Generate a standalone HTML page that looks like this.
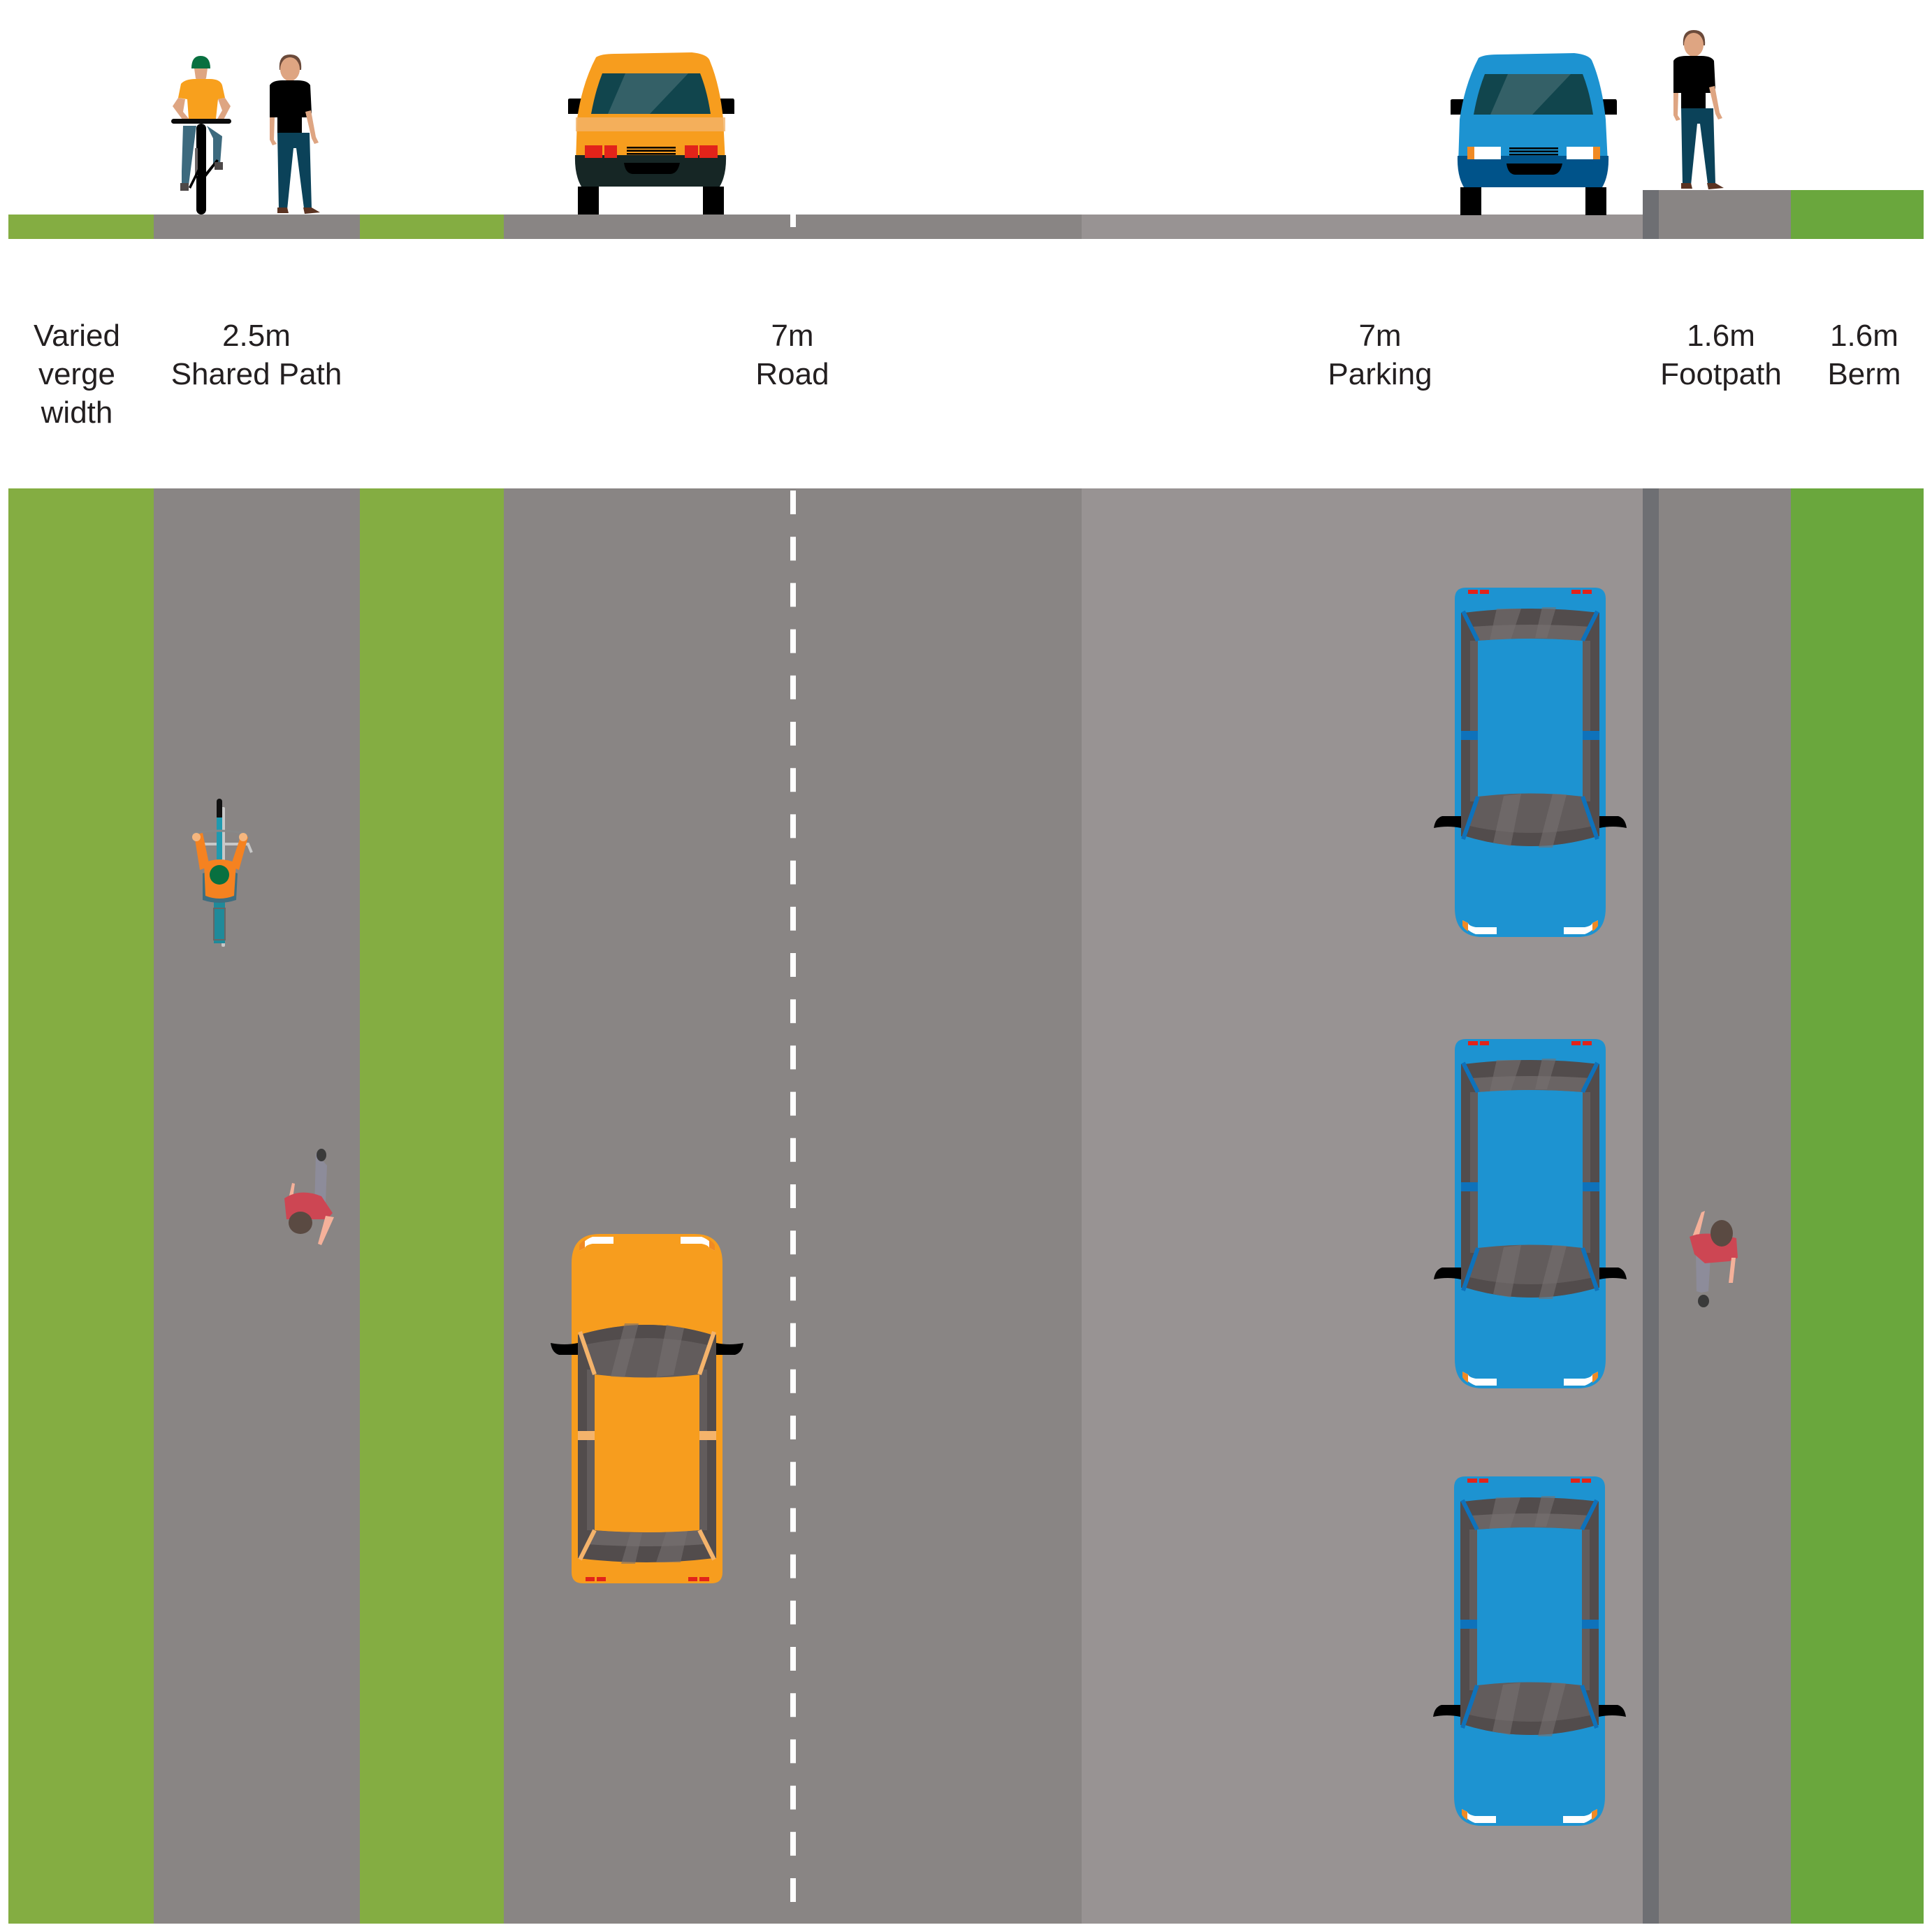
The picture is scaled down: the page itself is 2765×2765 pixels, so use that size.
<!DOCTYPE html>
<html><head><meta charset="utf-8"><style>
html,body{margin:0;padding:0;background:#fff}
svg{display:block}
text{font-family:"Liberation Sans Narrow","Liberation Sans",sans-serif;font-size:44px;fill:#231f20;text-anchor:middle}
</style></head><body>
<svg width="2765" height="2765" viewBox="0 0 2765 2765" xmlns="http://www.w3.org/2000/svg">
<defs>
  <g id="man">
    <path d="M400 100 Q398 78 415 78 Q433 78 431 100 Z" fill="#6b4a3a"/>
    <ellipse cx="415" cy="99" rx="14" ry="17" fill="#dea582"/>
    <path d="M386 122 Q390 115 404 115 L426 115 Q440 115 444 122 L446 162 L440 168 L432 168 L432 191 L397 191 L397 168 L386 168 Z" fill="#000"/>
    <path d="M386 168 L393 168 L392 200 L396 206 L390 208 L386 200 Z" fill="#dea582"/>
    <path d="M437 160 L445 158 L452 196 L456 204 L450 206 L446 198 Z" fill="#dea582"/>
    <path d="M397 190 L443 190 L446 298 L435 298 L424 212 L420 212 L411 300 L399 300 Z" fill="#0b4259"/>
    <path d="M397 297 L411 297 L413 305 L397 305 Z M434 297 L446 297 L458 304 L436 306 Z" fill="#5a3322"/>
  </g>
  <g id="cartop">
    <path d="M16 0 L200 0 Q216 0 216 16 L216 458 Q216 500 176 500 L40 500 Q0 500 0 458 L0 16 Q0 0 16 0 Z" fill="var(--b)"/>
    <rect x="9" y="36" width="24" height="320" fill="#524c4c"/>
    <rect x="183" y="36" width="24" height="320" fill="#524c4c"/>
    <rect x="22" y="76" width="11" height="230" fill="#625c5c"/>
    <rect x="183" y="76" width="11" height="230" fill="#625c5c"/>
    <path d="M13 36 Q108 24 207 36 L183 76 Q108 70 33 76 Z" fill="#524c4c"/>
    <path d="M24 56 Q108 50 195 56 L183 76 Q108 70 33 76 Z" fill="#6a6464"/>
    <path d="M60 30 L95 30 L80 75 L50 75 Z M125 28 L145 28 L132 72 L115 72 Z" fill="#777070" opacity=".6"/>
    <path d="M33 76 Q108 70 183 76 L183 299 Q108 290 33 299 Z" fill="var(--b)"/>
    <path d="M33 299 Q108 290 183 299 L207 355 Q108 385 13 355 Z" fill="#625c5c"/>
    <path d="M13 355 Q108 385 207 355 L203 340 Q108 362 17 340 Z" fill="#524c4c"/>
    <path d="M70 298 L95 295 L80 370 L55 365 Z M140 295 L160 296 L140 372 L120 372 Z" fill="#777070" opacity=".6"/>
    <g stroke="var(--p)" stroke-width="6" fill="none">
      <path d="M12 34 L33 76 M204 34 L183 76 M33 299 L12 360 M183 299 L204 360"/>
    </g>
    <rect x="9" y="205" width="24" height="13" fill="var(--p)"/>
    <rect x="183" y="205" width="24" height="13" fill="var(--p)"/>
    <path d="M9 327 L-18 327 Q-28 330 -30 344 Q-10 340 9 344 Z" fill="#000"/>
    <path d="M207 327 L234 327 Q244 330 246 344 Q226 340 207 344 Z" fill="#000"/>
    <rect x="19" y="3" width="14" height="6" fill="#e2231a"/><rect x="36" y="3" width="13" height="6" fill="#e2231a"/>
    <rect x="167" y="3" width="13" height="6" fill="#e2231a"/><rect x="183" y="3" width="13" height="6" fill="#e2231a"/>
    <path d="M11 476 Q14 490 30 496 L60 496 L60 486 L30 486 Q20 484 19 480 Z" fill="#fff"/>
    <path d="M11 476 L19 480 L19 492 Q13 488 11 484 Z" fill="#f08a24"/>
    <path d="M205 476 Q202 490 186 496 L156 496 L156 486 L186 486 Q196 484 197 480 Z" fill="#fff"/>
    <path d="M205 476 L197 480 L197 492 Q203 488 205 484 Z" fill="#f08a24"/>
  </g>
  <g id="carfront">
    <path d="M827 267 L857 267 L857 307 L827 307 Z M1006 267 L1036 267 L1036 307 L1006 307 Z" fill="#000"/>
    <path d="M813 143 Q813 141 816 141 L840 141 L840 163 L813 163 Z M1027 141 L1049 141 Q1051 141 1051 145 L1051 163 L1024 163 Z" fill="#000"/>
    <path d="M853 82 Q860 77 880 77 L990 75 Q1010 77 1015 85 Q1030 120 1035 170 L1038 232 L824 232 L826 170 Q833 120 853 82 Z" fill="var(--b)"/>
    <path d="M862 105 L1002 105 Q1012 130 1017 163 L846 163 Q852 130 862 105 Z" fill="#11454d"/>
    <path d="M895 105 L985 105 L930 163 L870 163 Z" fill="#fff" opacity=".15"/>
    <path d="M823 222 L1039 222 Q1040 250 1030 267 L832 267 Q822 250 823 222 Z" fill="var(--d)"/>
    <path d="M893 233 L973 233 Q970 248 960 249 L905 249 Q895 248 893 233 Z" fill="#000"/>
    <g fill="#000"><rect x="897" y="210" width="70" height="2.5"/><rect x="897" y="214.5" width="70" height="2.5"/><rect x="897" y="219" width="70" height="2.5"/></g>
  </g>
</defs>

<!-- elevation strip -->
<rect x="12" y="307" width="208" height="35" fill="#84ad42"/>
<rect x="220" y="307" width="295" height="35" fill="#898584"/>
<rect x="515" y="307" width="206" height="35" fill="#84ad42"/>
<rect x="721" y="307" width="827" height="35" fill="#898584"/>
<rect x="1548" y="307" width="803" height="35" fill="#989393"/>
<rect x="2351" y="272" width="23" height="70" fill="#6e6f73"/>
<rect x="2374" y="272" width="189" height="70" fill="#898584"/>
<rect x="2563" y="272" width="190" height="70" fill="#6aa73d"/>
<rect x="1131" y="307" width="8" height="18" fill="#fff"/>

<!-- elevation figures -->
<g>
  <path d="M274 98 Q274 80 287 80 Q301 80 301 98 Z" fill="#087040"/>
  <path d="M278 98 L297 98 L295 112 Q287 122 280 112 Z" fill="#dea582"/>
  <path d="M262 180 L281 180 L270 265 L260 265 L260 245 Z M296 180 L318 195 L315 235 L305 235 L305 198 Z" fill="#3d6a7e"/>
  <path d="M259 120 Q265 113 280 113 L300 113 Q315 113 318 122 L322 140 L312 142 L309 170 L270 170 L268 142 L255 140 Z" fill="#f8a01d"/>
  <path d="M255 140 L265 142 L262 160 L272 172 L264 175 L247 152 Z M312 142 L322 140 L330 152 L318 175 L310 172 L318 158 Z" fill="#dea582"/>
  <rect x="245" y="170" width="86" height="7" rx="3.5" fill="#0b0b0b"/>
  <rect x="281" y="177" width="14" height="130" rx="7" fill="#000"/>
  <rect x="279" y="212" width="4" height="40" fill="#6b6565"/>
  <path d="M292 250 L310 228 L313 230 L295 253 Z M270 268 L283 242 L286 244 L273 270 Z" fill="#000"/>
  <rect x="258" y="262" width="12" height="11" fill="#4d4848"/><rect x="307" y="232" width="12" height="11" fill="#4d4848"/>
</g>
<use href="#man"/>
<use href="#man" transform="translate(2009,-35)"/>
<use href="#carfront" style="--b:#f79d1e;--d:#162625"/>
<g fill="#e2231a"><rect x="837" y="208" width="25" height="18"/><rect x="865" y="208" width="18" height="18"/><rect x="980" y="208" width="19" height="18"/><rect x="1001" y="208" width="26" height="18"/></g>
<rect x="824" y="168" width="214" height="20" fill="#f2b46a" opacity=".8"/>
<use href="#carfront" transform="translate(1263,1)" style="--b:#1d93d1;--d:#00538a"/>
<g transform="translate(1263,1)">
  <rect x="837" y="209" width="10" height="18" fill="#f08a24"/><rect x="847" y="209" width="38" height="18" fill="#fff"/>
  <rect x="979" y="209" width="38" height="18" fill="#fff"/><rect x="1017" y="209" width="10" height="18" fill="#f08a24"/>
</g>

<!-- labels -->
<text x="110" y="495">Varied</text>
<text x="110" y="550">verge</text>
<text x="110" y="605">width</text>
<text x="367" y="495">2.5m</text>
<text x="367" y="550">Shared Path</text>
<text x="1134" y="495">7m</text>
<text x="1134" y="550">Road</text>
<text x="1975" y="495">7m</text>
<text x="1975" y="550">Parking</text>
<text x="2463" y="495">1.6m</text>
<text x="2463" y="550">Footpath</text>
<text x="2668" y="495">1.6m</text>
<text x="2668" y="550">Berm</text>

<!-- plan -->
<rect x="12" y="699" width="208" height="2054" fill="#84ad42"/>
<rect x="220" y="699" width="295" height="2054" fill="#898584"/>
<rect x="515" y="699" width="206" height="2054" fill="#84ad42"/>
<rect x="721" y="699" width="827" height="2054" fill="#898584"/>
<rect x="1548" y="699" width="803" height="2054" fill="#989393"/>
<rect x="2351" y="699" width="23" height="2054" fill="#6e6f73"/>
<rect x="2374" y="699" width="189" height="2054" fill="#898584"/>
<rect x="2563" y="699" width="190" height="2054" fill="#6aa73d"/>
<line x1="1135" y1="702" x2="1135" y2="2740" stroke="#fff" stroke-width="8" stroke-dasharray="34 32.2"/>

<!-- cars top -->
<use href="#cartop" transform="translate(1034,2266) rotate(180)" style="--b:#f79d1e;--p:#f4b36b"/>
<use href="#cartop" transform="translate(2082,841)" style="--b:#1d93d1;--p:#0e72bb"/>
<use href="#cartop" transform="translate(2082,1487)" style="--b:#1d93d1;--p:#0e72bb"/>
<use href="#cartop" transform="translate(2081,2113)" style="--b:#1d93d1;--p:#0e72bb"/>

<!-- cyclist top -->
<g>
  <rect x="317" y="1155" width="5" height="200" rx="2" fill="#c8c8c8"/>
  <path d="M282 1208 L355 1208 L360 1220" stroke="#c8c8c8" stroke-width="4" fill="none"/>
  <rect x="310" y="1143" width="8" height="30" rx="4" fill="#111"/>
  <rect x="310" y="1170" width="8" height="60" fill="#1f9ab0"/>
  <path d="M275 1193 Q314 1185 353 1193" stroke="#888" stroke-width="3" fill="none"/>
  <rect x="306" y="1290" width="16" height="60" fill="#1f8a9a"/>
  <rect x="306" y="1300" width="16" height="45" fill="none" stroke="#666" stroke-width="2"/>
  <path d="M278 1195 L290 1192 L300 1240 L286 1245 Z M345 1195 L355 1198 L342 1245 L330 1240 Z" fill="#f58220"/>
  <path d="M290 1250 Q314 1240 340 1250 L338 1288 Q314 1296 290 1288 Z" fill="#3e6e80"/>
  <path d="M292 1235 Q314 1225 338 1235 L335 1282 Q314 1290 294 1282 Z" fill="#f58220"/>
  <ellipse cx="314" cy="1252" rx="14" ry="14" fill="#087040"/>
  <circle cx="281" cy="1198" r="6" fill="#f5b67e"/><circle cx="348" cy="1198" r="6" fill="#f5b67e"/>
</g>
<!-- pedestrian 1 top -->
<g>
  <path d="M452 1650 L468 1668 L466 1720 L450 1730 Z" fill="#8d8c9a"/>
  <ellipse cx="460" cy="1653" rx="7" ry="9" fill="#3a3a3a"/>
  <path d="M412 1720 L418 1693 L422 1694 L418 1722 Z" fill="#f5b19a"/>
  <path d="M407 1715 Q430 1700 460 1712 L476 1736 L468 1745 L440 1745 L410 1745 Z" fill="#cd4653"/>
  <path d="M466 1740 L478 1742 L460 1782 L455 1780 Z" fill="#f5b19a"/>
  <ellipse cx="430" cy="1750" rx="17" ry="16" fill="#5a4a42"/>
</g>
<!-- pedestrian 2 top -->
<g>
  <path d="M2427 1788 L2448 1800 L2445 1848 L2435 1850 L2428 1848 Z" fill="#8d8c9a"/>
  <ellipse cx="2438" cy="1862" rx="8" ry="9" fill="#3a3a3a"/>
  <path d="M2422 1770 L2435 1735 L2440 1733 L2430 1775 Z" fill="#f5b19a"/>
  <path d="M2418 1770 Q2440 1760 2485 1772 L2487 1800 L2475 1805 L2440 1808 L2425 1795 Z" fill="#cd4653"/>
  <path d="M2478 1800 L2484 1800 L2480 1836 L2474 1836 Z" fill="#f5b19a"/>
  <ellipse cx="2464" cy="1765" rx="16" ry="19" fill="#5a4a42"/>
</g>
</svg>
</body></html>
